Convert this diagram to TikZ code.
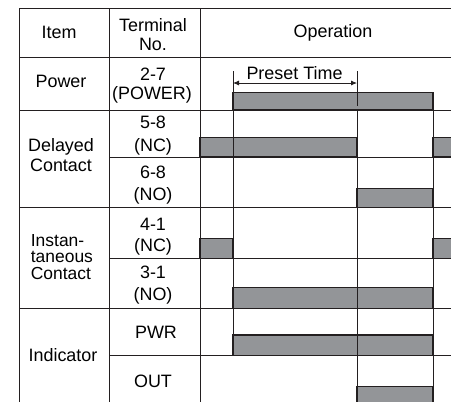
\documentclass[tikz,border=0pt]{standalone}
\usepackage{fontspec}
\setmainfont{Liberation Sans}
\usetikzlibrary{arrows.meta}
\definecolor{ink}{HTML}{231F20}
\definecolor{barfill}{HTML}{939598}
\tikzset{
  grid/.style={draw=ink, line width=1bp},
  tline/.style={draw=ink, line width=0.9bp},
  bar/.style={fill=barfill, draw=ink, line width=1.4bp},
  lbl/.style={inner sep=0pt, anchor=base, font=\fontsize{18}{18}\selectfont},
}
\begin{document}
\begin{tikzpicture}[x=1bp, y=-1bp]
\useasboundingbox (0,0) rectangle (451,401);
\clip (0,0) rectangle (451,401);
% bars
\draw[bar] (233,92.7) rectangle (433,110);
\draw[bar] (200,137.7) rectangle (357,157);
\draw[bar] (433,137.7) rectangle (470,157);
\draw[bar] (357,188.3) rectangle (433,207.3);
\draw[bar] (200,238.3) rectangle (233,258.3);
\draw[bar] (433,238.3) rectangle (470,258.3);
\draw[bar] (233,287.7) rectangle (433,308.3);
\draw[bar] (233,335) rectangle (433,355.3);
\draw[bar] (357,386.7) rectangle (433,420);
% table lines
\draw[grid] (19,410) -- (19,8) -- (460,8);
\draw[grid] (109,8) -- (109,410);
\draw[grid] (200,8) -- (200,410);
\draw[grid] (19,57.3) -- (460,57.3);
\draw[grid] (19,110) -- (460,110);
\draw[grid] (19,207.3) -- (460,207.3);
\draw[grid] (19,308.3) -- (460,308.3);
\draw[grid] (109,157) -- (460,157);
\draw[grid] (109,258.3) -- (460,258.3);
\draw[grid] (109,355.3) -- (460,355.3);
% timing lines
\coordinate (tA) at (233,71);
\coordinate (tAend) at (233,355.3);
\coordinate (tB) at (357,71);
\coordinate (tBend) at (357,106);
\coordinate (tB2) at (357,110);
\coordinate (tB2end) at (357,410);
\coordinate (tC) at (433,110);
\coordinate (tCend) at (433,410);
\draw[tline] (tA) -- (tAend);
\draw[tline] (tB) -- (tBend);
\draw[tline] (tB2) -- (tB2end);
\draw[tline] (tC) -- (tCend);
% preset arrow
\coordinate (pl) at (233,83);
\coordinate (pr) at (357,83);
\draw[draw=ink, line width=0.8bp, {Latex[length=6bp,width=5bp]}-{Latex[length=6bp,width=5bp]}] (pl) -- (pr);
\node[lbl] (preset) at (294.5,79.3) {Preset Time};
% header
\node[lbl] (item) at (59,38.3) {Item};
\node[lbl] (term1) at (153,31.7) {Terminal};
\node[lbl] (term2) at (153,50) {No.};
\node[lbl] (oper) at (333,37.3) {Operation};
% power
\node[lbl] (power) at (61,87.3) {Power};
\node[lbl] (t27) at (153,80) {2-7};
\node[lbl] (tpow) at (152,99.3) {(POWER)};
% delayed
\node[lbl] (delayed) at (61,151.7) {Delayed};
\node[lbl] (contact1) at (61,171.7) {Contact};
\node[lbl] (t58) at (153,128.3) {5-8};
\node[lbl] (nc1) at (153,151.3) {(NC)};
\node[lbl] (t68) at (153,178.3) {6-8};
\node[lbl] (no1) at (153,200.3) {(NO)};
% instantaneous
\node[lbl, anchor=base west, align=left, font=\fontsize{17.5}{16.2}\selectfont] (instan) at (30.7,279) {Instan-\\taneous\\Contact};
\node[lbl] (t41) at (153,230) {4-1};
\node[lbl] (nc2) at (153,251.7) {(NC)};
\node[lbl] (t31) at (153,278.3) {3-1};
\node[lbl] (no2) at (153,300) {(NO)};
% indicator
\node[lbl] (indicator) at (63,361) {Indicator};
\node[lbl] (pwr) at (156,338.3) {PWR};
\node[lbl] (out) at (153,387.3) {OUT};
\end{tikzpicture}
\end{document}
